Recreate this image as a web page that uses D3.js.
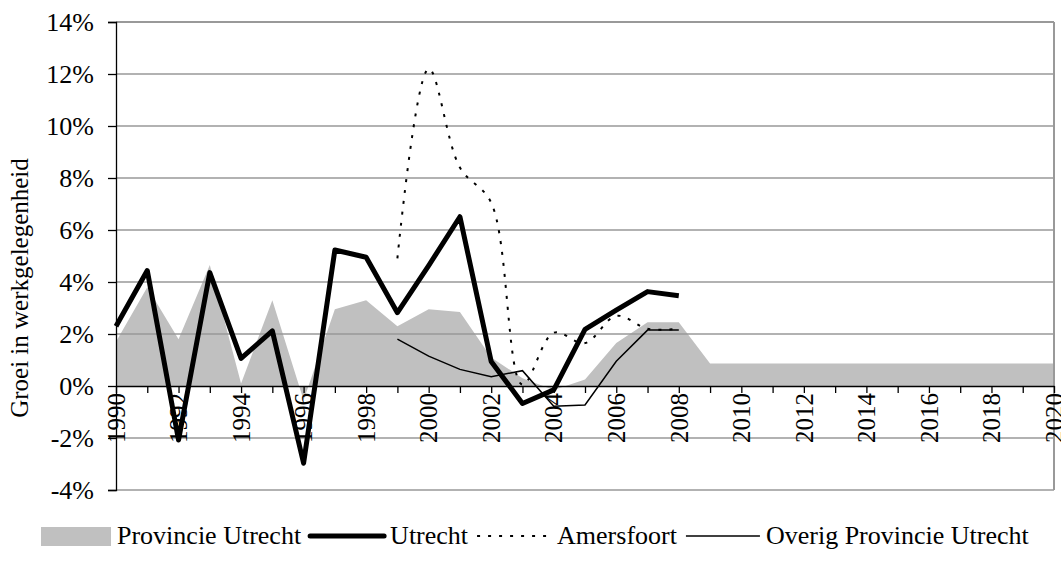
<!DOCTYPE html>
<html>
<head>
<meta charset="utf-8">
<script src="https://cdn.jsdelivr.net/npm/d3@7"></script>
<style>
  body { margin: 0; background: #fff; }
  svg { display: block; font-family: "Liberation Serif", "Times New Roman", serif; }
</style>
</head>
<body>
<svg id="chart"></svg>
<script>
var years = [1990, 1991, 1992, 1993, 1994, 1995, 1996, 1997, 1998, 1999,
             2000, 2001, 2002, 2003, 2004, 2005, 2006, 2007, 2008, 2009,
             2010, 2011, 2012, 2013, 2014, 2015, 2016, 2017, 2018, 2019, 2020];

// groei in %, per jaar
var provincieUtrecht = [1.7, 3.8, 1.8, 4.65, 0.1, 3.3, -0.55, 2.95, 3.3, 2.3,
                        2.95, 2.85, 1.1, 0.3, -0.15, 0.25, 1.65, 2.45, 2.45, 0.87,
                        0.87, 0.87, 0.87, 0.87, 0.87, 0.87, 0.87, 0.87, 0.87, 0.87, 0.87];
var utrecht = [2.3, 4.44, -2.08, 4.36, 1.06, 2.12, -2.97, 5.23, 4.95, 2.82,
               4.63, 6.51, 0.94, -0.67, -0.15, 2.18, 2.92, 3.63, 3.47];
var amersfoort = [null, null, null, null, null, null, null, null, null, 4.91,
                  12.2, 8.4, 7.05, 0.05, 2.05, 1.65, 2.7, 2.2, 2.2];
var overig = [null, null, null, null, null, null, null, null, null, 1.8,
              1.15, 0.64, 0.36, 0.59, -0.78, -0.73, 0.95, 2.15, 2.15];

var yTicks = [-4, -2, 0, 2, 4, 6, 8, 10, 12, 14];
var xTickLabels = [1990, 1992, 1994, 1996, 1998, 2000, 2002, 2004, 2006, 2008,
                   2010, 2012, 2014, 2016, 2018, 2020];

var legendItems = ["Provincie Utrecht", "Utrecht", "Amersfoort", "Overig Provincie Utrecht"];

drawChart();

function drawChart() {
    var svg = d3.select("#chart").attr("width", 1061).attr("height", 569);

    var xScale = d3.scaleLinear().domain([1990, 2020]).range([116, 1054]);
    var yScale = d3.scaleLinear().domain([-4, 14]).range([490, 22]);

    // grijs vlak
    var area = d3.area()
        .x(function(d, i) { return xScale(years[i]); })
        .y0(yScale(0))
        .y1(function(d) { return yScale(d); });

    svg.append("path")
        .datum(provincieUtrecht)
        .attr("d", area)
        .style("fill", "#c0c0c0");

    // rasterlijnen
    svg.append("g").selectAll("line")
        .data(yTicks.filter(function(d) { return d !== 0; }))
        .enter().append("line")
        .attr("x1", xScale(1990))
        .attr("x2", xScale(2020))
        .attr("y1", function(d) { return yScale(d); })
        .attr("y2", function(d) { return yScale(d); })
        .style("stroke", "#999")
        .style("stroke-width", function(d) { return d === 14 ? 2 : 1.3; });

    svg.append("line")
        .attr("x1", xScale(2020)).attr("x2", xScale(2020))
        .attr("y1", yScale(14)).attr("y2", yScale(-4))
        .style("stroke", "#999")
        .style("stroke-width", 2);

    // y-as
    var yAxis = svg.append("g")
        .attr("transform", "translate(" + xScale(1990) + ",0)")
        .call(d3.axisLeft(yScale)
            .tickValues(yTicks)
            .tickSize(8)
            .tickPadding(14)
            .tickFormat(function(d) { return d + "%"; }));
    yAxis.selectAll("path, line").style("stroke", "#000").style("stroke-width", 1.3);
    yAxis.selectAll("text")
        .style("font-family", "Liberation Serif")
        .style("font-size", "26px")
        .style("fill", "#000");

    // x-as op 0%
    var xAxis = svg.append("g")
        .attr("transform", "translate(0," + yScale(0) + ")")
        .call(d3.axisBottom(xScale)
            .tickValues(years)
            .tickSize(7)
            .tickSizeOuter(0)
            .tickFormat(""));
    xAxis.selectAll("path, line").style("stroke", "#000").style("stroke-width", 1.3);

    svg.append("g").selectAll("text")
        .data(xTickLabels)
        .enter().append("text")
        .attr("transform", function(d) { return "translate(" + xScale(d) + "," + (yScale(0) + 7) + ") rotate(-90)"; })
        .attr("text-anchor", "end")
        .attr("dy", "0.35em")
        .style("font-size", "25px")
        .text(function(d) { return d; });

    // titel y-as
    svg.append("text")
        .attr("transform", "translate(28,288) rotate(-90)")
        .attr("text-anchor", "middle")
        .style("font-size", "25px")
        .text("Groei in werkgelegenheid");

    // lijnen
    var line = d3.line()
        .defined(function(d) { return d !== null; })
        .x(function(d, i) { return xScale(years[i]); })
        .y(function(d) { return yScale(d); });

    svg.append("path")
        .datum(overig)
        .attr("d", line)
        .style("fill", "none")
        .style("stroke", "#000")
        .style("stroke-width", 1.5);

    var smoothLine = d3.line()
        .defined(function(d) { return d !== null; })
        .curve(d3.curveCatmullRom)
        .x(function(d, i) { return xScale(years[i]); })
        .y(function(d) { return yScale(d); });

    svg.append("path")
        .datum(amersfoort)
        .attr("d", smoothLine)
        .style("fill", "none")
        .style("stroke", "#000")
        .style("stroke-width", 2)
        .style("stroke-dasharray", "3,8");

    svg.append("path")
        .datum(utrecht)
        .attr("d", line)
        .style("fill", "none")
        .style("stroke", "#000")
        .style("stroke-width", 5)
        .style("stroke-linejoin", "round");

    // legenda
    var legend = svg.append("g");
    var lx = 41;
    var ly = 536;
    legendItems.forEach(function(name, i) {
        var w = i === 0 ? 70 : 74;
        if (i === 0) {
            legend.append("rect")
                .attr("x", lx).attr("y", ly - 9)
                .attr("width", w).attr("height", 19)
                .style("fill", "#c0c0c0");
        } else {
            var l = legend.append("line")
                .attr("x1", lx).attr("x2", lx + w)
                .attr("y1", ly).attr("y2", ly)
                .style("stroke", "#000");
            if (i === 1) l.style("stroke-width", 5).style("stroke-linecap", "round");
            if (i === 2) l.style("stroke-width", 2).style("stroke-dasharray", "3,8");
            if (i === 3) l.style("stroke-width", 1.5);
        }
        var t = legend.append("text")
            .attr("x", lx + w + 6)
            .attr("y", ly + 8)
            .style("font-size", "26px")
            .text(name);
        lx = lx + w + 6 + t.node().getComputedTextLength() + 9;
    });
}
</script>
</body>
</html>
